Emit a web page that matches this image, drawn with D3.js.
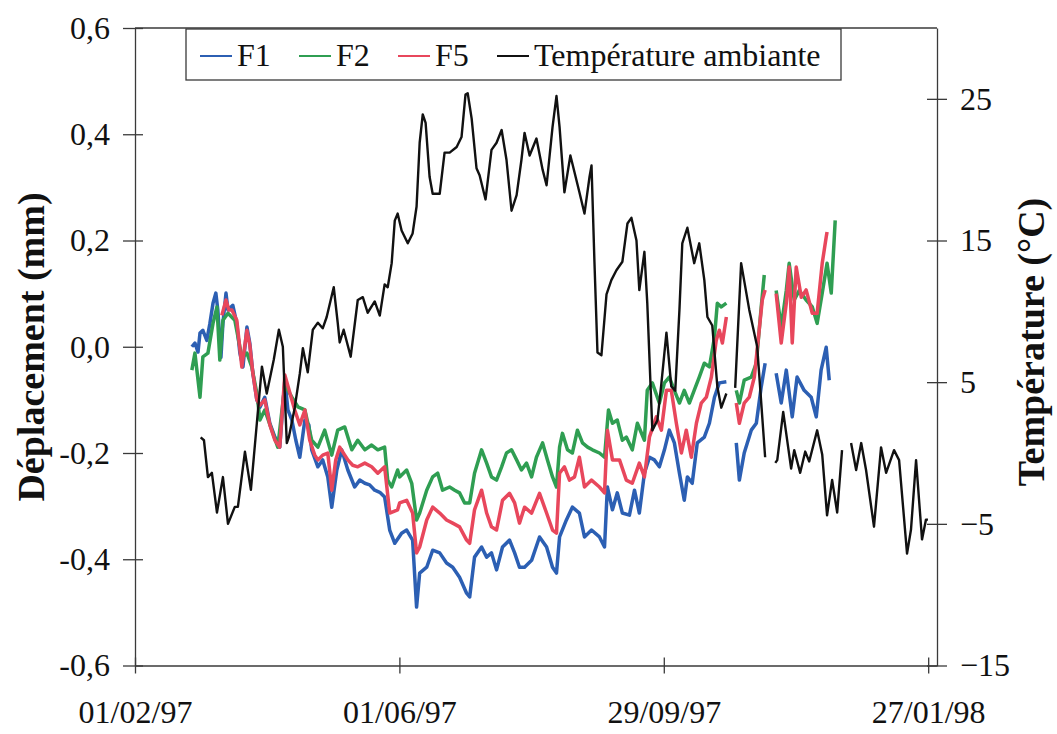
<!DOCTYPE html>
<html>
<head>
<meta charset="utf-8">
<script src="https://cdn.jsdelivr.net/npm/d3@7"></script>
<style>
    html, body { margin: 0; padding: 0; background: #fff; overflow: hidden; }
    svg { display: block; }
    svg text { font-family: "Liberation Serif", serif !important; fill: #111; }
</style>
</head>
<body>
<div id="svg-container"></div>
<script>
const tempDays = [29.8,31.3,33.1,34.9,37.2,39.9,42.2,45.3,46.7,49.9,52.6,55.3,57.6,59.8,63.0,65.3,67.1,68.9,69.8,72.5,
    74.8,76.2,78.4,80.7,83.0,85.2,87.0,90.2,92.0,92.9,94.7,97.9,101.1,103.4,105.6,108.8,111.1,113.3,114.7,116.5,
    117.9,119.2,121.0,123.8,126.0,127.8,129.2,130.6,131.9,133.7,135.1,138.3,140.5,142.8,146.0,148.2,150.0,151.0,152.8,155.0,
    156.4,159.1,161.8,164.1,166.4,168.6,170.9,173.2,175.4,176.8,179.1,182.2,185.0,186.8,187.4,189.5,191.3,192.7,194.9,197.6,
    199.5,201.7,204.0,206.3,207.2,208.5,209.9,211.7,214.0,216.2,218.5,221.2,223.5,225.3,227.6,228.9,231.2,232.5,234.8,237.1,
    238.9,241.2,243.4,245.2,247.1,248.4,250.7,253.8,256.1,258.4,259.8,262.0,264.3,266.1,268.4,270.4,272.4,275.1,278.8,282.4,
    286.0,288.3,290.6,291.5,294.2,297.8,299.2,301.9,304.2,306.0,309.6,311.9,314.1,316.4,318.7,320.9,323.0,325.0,327.3,329.6,
    331.8,335.4,338.6,340.9,344.5,346.8,350.4,352.2,354.5,357.2,359.0,359.9]
const tempValues = [1.1,0.9,-1.7,-1.4,-4.2,-1.7,-5.0,-3.8,-3.8,0.1,-2.6,2.1,6.1,4.2,6.6,8.7,7.5,0.7,1.1,3.2,
    5.6,7.4,5.7,8.7,9.2,8.8,9.6,11.7,9.2,7.8,8.7,6.8,10.8,11.0,9.9,10.7,9.7,11.9,11.7,13.4,
    16.4,16.9,15.7,14.8,15.5,17.4,21.9,23.9,23.3,19.5,18.3,18.3,21.2,21.2,21.6,22.3,25.3,25.4,23.6,20.1,
    19.6,17.9,21.4,21.9,22.8,20.7,17.1,18.2,20.7,22.6,21.0,22.2,20.0,18.9,19.8,23.0,25.2,23.0,18.4,21.0,
    19.8,18.4,16.9,19.5,20.3,13.6,7.1,6.9,11.2,12.2,12.9,13.5,16.2,16.6,15.0,11.5,14.2,10.6,1.6,2.3,
    4.9,8.5,4.7,4.4,10.1,14.8,15.9,13.4,14.8,12.2,9.6,9.0,4.7,3.2,4.2,null,4.6,13.4,10.1,7.5,
    -0.3,null,-0.7,-0.5,2.9,-1.1,0.2,-1.4,0.1,-0.6,1.6,-0.1,-4.4,-1.9,-4.2,0.2,null,0.7,-1.2,0.7,
    -1.2,-5.2,0.4,-1.4,0.2,-0.5,-7.1,-5.4,-0.5,-6.1,-4.7,-4.7]

const f1Days = [25.8,27.2,28.6,29.5,30.8,32.6,34.0,35.4,36.7,37.6,39.0,39.9,41.3,42.2,44.4,46.2,47.6,49.0,50.8,52.1,
    53.5,55.3,56.7,58.9,61.2,63.5,65.7,68.0,69.4,71.2,73.0,74.8,77.1,78.9,80.2,83.0,85.2,87.5,89.3,91.6,
    93.8,96.6,99.7,102.0,104.3,106.5,108.8,111.1,113.3,115.6,117.9,121.0,123.3,126.0,127.8,129.2,132.4,135.1,138.3,141.4,
    144.2,147.3,150.5,151.9,154.1,157.3,159.6,161.8,164.1,166.8,170.0,172.3,174.5,176.8,180.0,183.6,186.8,189.5,191.3,192.7,
    195.8,198.5,201.7,204.0,207.2,210.8,213.1,214.4,216.7,218.9,221.2,224.4,226.7,228.9,231.2,233.5,235.7,238.0,240.3,242.5,
    244.8,247.1,249.3,250.7,252.9,255.2,258.4,260.7,263.0,265.2,268.4,270.5,272.9,274.3,276.5,279.7,282.0,284.2,286.0,288.5,
    291.0,293.3,295.6,298.3,300.5,303.7,306.9,309.2,311.4,313.7,315.1]
const f1Values = [0.00,0.007,-0.010,0.026,0.031,0.012,0.044,0.082,0.101,0.069,-0.020,0.044,0.101,0.069,0.078,0.044,-0.012,-0.038,0.037,0.007,
    -0.050,-0.100,-0.114,-0.095,-0.144,-0.170,-0.189,-0.063,-0.119,-0.138,-0.176,-0.208,-0.138,-0.147,-0.194,-0.226,-0.213,-0.245,-0.302,-0.232,
    -0.194,-0.232,-0.264,-0.251,-0.257,-0.260,-0.270,-0.274,-0.283,-0.345,-0.370,-0.351,-0.345,-0.364,-0.490,-0.426,-0.415,-0.383,-0.388,-0.407,
    -0.415,-0.434,-0.464,-0.471,-0.396,-0.377,-0.396,-0.388,-0.420,-0.377,-0.364,-0.388,-0.415,-0.415,-0.402,-0.358,-0.377,-0.415,-0.426,-0.358,
    -0.326,-0.302,-0.313,-0.358,-0.345,-0.358,-0.377,-0.264,-0.307,-0.275,-0.313,-0.317,-0.270,-0.313,-0.238,-0.208,-0.213,-0.226,-0.194,-0.157,
    -0.181,-0.238,-0.289,-0.245,-0.257,-0.181,-0.170,-0.144,-0.095,-0.068,-0.066,null,-0.181,-0.251,-0.200,-0.157,-0.144,-0.076,-0.031,null,
    -0.050,-0.106,-0.044,-0.132,-0.057,-0.082,-0.095,-0.132,-0.044,-0.001,-0.063]

const f2Days = [25.8,27.2,29.5,30.8,33.1,35.4,37.2,38.5,39.9,42.2,45.3,48.5,50.8,53.0,55.3,56.7,58.9,62.1,64.8,68.0,
    71.2,73.9,77.1,80.2,83.0,86.1,89.3,92.0,95.2,98.4,101.1,104.3,107.4,110.2,113.3,114.7,116.5,119.2,120.1,123.3,
    125.6,127.8,129.2,132.4,135.1,137.4,139.6,142.8,145.1,147.3,149.6,151.9,154.1,157.3,159.6,161.8,164.1,166.4,168.6,170.9,
    173.2,175.4,177.7,180.0,182.2,185.0,187.2,189.5,191.3,192.7,194.0,196.3,198.5,200.8,203.1,205.4,207.6,210.8,213.1,214.9,
    216.7,218.9,221.2,223.0,225.7,228.0,231.2,232.5,234.8,238.0,240.3,242.5,244.8,247.1,249.3,251.6,253.8,256.1,258.4,260.7,
    263.0,264.3,266.1,268.4,270.5,272.9,274.3,276.5,279.7,282.0,284.2,285.6,288.5,291.0,293.3,295.6,296.9,299.2,301.5,304.6,
    307.4,309.6,311.9,314.1,316.0,317.8]
const f2Values = [-0.044,-0.012,-0.095,-0.019,-0.012,0.044,0.075,-0.025,0.050,0.063,0.050,-0.020,-0.012,-0.038,-0.087,-0.138,-0.119,-0.157,-0.189,-0.072,
    -0.095,-0.113,-0.119,-0.176,-0.189,-0.157,-0.204,-0.157,-0.151,-0.194,-0.176,-0.194,-0.185,-0.194,-0.189,-0.251,-0.264,-0.232,-0.245,-0.232,
    -0.257,-0.326,-0.313,-0.270,-0.245,-0.238,-0.270,-0.264,-0.270,-0.275,-0.294,-0.294,-0.238,-0.194,-0.219,-0.245,-0.251,-0.226,-0.200,-0.194,
    -0.213,-0.232,-0.219,-0.245,-0.208,-0.181,-0.213,-0.245,-0.264,-0.189,-0.163,-0.194,-0.200,-0.157,-0.181,-0.189,-0.194,-0.200,-0.208,-0.119,
    -0.144,-0.138,-0.176,-0.170,-0.194,-0.144,-0.176,-0.082,-0.068,-0.106,-0.068,-0.057,-0.082,-0.106,-0.082,-0.106,-0.082,-0.057,-0.031,-0.038,
    0.018,0.082,0.075,0.082,null,-0.082,-0.106,-0.063,-0.057,-0.031,0.074,0.135,null,0.106,0.037,0.106,0.157,0.088,0.106,0.088,
    0.075,0.044,0.101,0.157,0.101,0.238]

const f5Days = [39.4,41.3,42.6,44.0,46.2,48.5,50.8,52.1,53.5,55.3,56.7,58.9,61.2,63.5,65.7,68.0,70.3,72.5,74.8,77.1,
    79.3,81.6,83.0,85.2,87.5,89.3,91.1,92.9,95.2,96.6,98.8,101.1,104.3,107.4,110.2,113.3,115.6,119.2,120.1,123.3,
    126.0,127.8,129.2,132.4,135.1,138.3,141.4,144.2,147.3,150.5,151.9,154.1,157.3,159.6,161.8,164.1,166.8,170.0,172.3,174.5,
    176.8,180.0,183.6,186.8,189.5,191.3,192.7,194.9,197.2,199.5,201.7,204.0,207.2,210.8,213.1,214.4,216.7,219.9,223.0,225.7,
    228.9,231.2,233.5,236.6,238.9,241.2,243.4,245.7,248.0,250.2,252.5,254.8,257.0,259.3,261.6,263.8,265.2,266.6,268.4,270.5,
    272.9,274.3,276.5,278.8,281.1,283.3,284.7,286.0,288.5,291.0,293.3,295.6,296.9,298.3,300.1,302.4,304.6,307.4,309.6,311.9,
    313.7,314.1]
const f5Values = [0.059,0.088,0.069,0.069,0.050,-0.038,0.031,0.003,-0.050,-0.100,-0.110,-0.100,-0.147,-0.176,-0.189,-0.053,-0.087,-0.119,-0.147,-0.119,
    -0.176,-0.204,-0.213,-0.204,-0.200,-0.270,-0.213,-0.189,-0.204,-0.213,-0.223,-0.226,-0.219,-0.226,-0.238,-0.226,-0.313,-0.307,-0.294,-0.289,
    -0.313,-0.388,-0.377,-0.326,-0.302,-0.313,-0.326,-0.332,-0.339,-0.364,-0.370,-0.307,-0.270,-0.313,-0.339,-0.345,-0.289,-0.276,-0.294,-0.332,
    -0.302,-0.313,-0.276,-0.313,-0.345,-0.351,-0.238,-0.226,-0.251,-0.245,-0.208,-0.264,-0.251,-0.264,-0.275,-0.157,-0.213,-0.213,-0.251,-0.257,
    -0.219,-0.245,-0.170,-0.132,-0.157,-0.082,-0.082,-0.144,-0.200,-0.157,-0.208,-0.144,-0.106,-0.095,-0.057,0.012,0.031,0.007,0.056,null,
    -0.106,-0.144,-0.106,-0.095,-0.057,0.031,0.088,0.107,null,0.100,0.007,0.082,0.150,0.007,0.150,0.093,0.107,0.063,0.063,0.157,
    0.206,0.216]

const xTickLabels = ['01/02/97', '01/06/97', '29/09/97', '27/01/98']
const leftTicks = [-0.6, -0.4, -0.2, 0, 0.2, 0.4, 0.6]
const rightTicks = [-15, -5, 5, 15, 25]
const seriesNames = ['F1', 'F2', 'F5', 'Température ambiante']

const width = 1057
const height = 734
const margin = { top: 28, right: 120, bottom: 68.5, left: 135 }
const innerWidth = width - margin.left - margin.right
const innerHeight = height - margin.top - margin.bottom
const serif = '"Liberation Serif", serif'

const parseDate = d3.timeParse('%d/%m/%y')
const start = parseDate('01/02/97')
const toDate = d => new Date(start.getTime() + d * 864e5)

const svg = d3.select('#svg-container')
    .append('svg').attr('width', width).attr('height', height)

const g = svg.append('g')
    .attr('transform', `translate(${margin.left}, ${margin.top})`)

//schalen
const xScale = d3.scaleTime()
    .domain([start, parseDate('31/01/98')])
    .range([0, innerWidth])
const yLeft = d3.scaleLinear().domain([-0.6, 0.6]).range([innerHeight, 0])
const yRight = d3.scaleLinear().domain([-15, 30]).range([innerHeight, 0])

const fr = d3.formatLocale({ decimal: ',', thousands: ' ', grouping: [3], currency: ['', ''], minus: '-' })

const axisColor = '#3a3a3a'

//assen
const yAxisG = g.append('g')
    .call(d3.axisLeft(yLeft).tickValues(leftTicks).tickFormat(fr.format('.1f'))
        .tickSize(12).tickSizeOuter(0).tickPadding(13))
yAxisG.selectAll('.tick line').attr('x1', 8)

const yAxisRightG = g.append('g')
    .attr('transform', `translate(${innerWidth}, 0)`)
    .call(d3.axisRight(yRight).tickValues(rightTicks)
        .tickSize(10).tickSizeOuter(0).tickPadding(13))
yAxisRightG.selectAll('.tick line').attr('x1', -10)

const xAxisG = g.append('g')
    .attr('transform', `translate(0, ${innerHeight})`)
    .call(d3.axisBottom(xScale).tickValues(xTickLabels.map(parseDate))
        .tickFormat(d3.timeFormat('%d/%m/%y')).tickSize(8).tickSizeOuter(0).tickPadding(27))
xAxisG.selectAll('.tick line').attr('y1', -8)

g.selectAll('g').attr('font-family', serif).attr('font-size', 32)

g.append('line')
    .attr('x1', 0).attr('x2', innerWidth).attr('y1', 0).attr('y2', 0)
    .attr('stroke', axisColor).attr('stroke-width', 1.3)

g.selectAll('.domain, .tick line').attr('stroke', axisColor).attr('stroke-width', 1.3)
g.selectAll('.tick text')
    .style('font-family', serif)
    .attr('font-size', 32).attr('fill', '#111')

//lijnen
const dispLine = d3.line()
    .defined(d => d[1] !== null)
    .x(d => xScale(toDate(d[0])))
    .y(d => yLeft(d[1]))
const tempLine = d3.line()
    .defined(d => d[1] !== null)
    .x(d => xScale(toDate(d[0])))
    .y(d => yRight(d[1]))

const series = [
    { days: f1Days, values: f1Values, color: '#2c5fb3' },
    { days: f2Days, values: f2Values, color: '#2f9e52' },
    { days: f5Days, values: f5Values, color: '#e8475c' }
]

series.forEach(s => {
    g.append('path')
        .datum(s.days.map((d, i) => [d, s.values[i]]))
        .attr('fill', 'none')
        .attr('stroke', s.color)
        .attr('stroke-width', 3.5)
        .attr('stroke-linejoin', 'round')
        .attr('d', dispLine)
})

g.append('path')
    .datum(tempDays.map((d, i) => [d, tempValues[i]]))
    .attr('fill', 'none')
    .attr('stroke', '#111')
    .attr('stroke-width', 2.4)
    .attr('stroke-linejoin', 'round')
    .attr('d', tempLine)

//titels
svg.append('text')
    .attr('transform', 'translate(44, 347) rotate(-90)')
    .attr('text-anchor', 'middle')
    .style('font-family', serif)
    .attr('font-size', 38).attr('font-weight', 'bold')
    .text('Déplacement (mm)')

svg.append('text')
    .attr('transform', 'translate(1044, 342) rotate(-90)')
    .attr('text-anchor', 'middle')
    .style('font-family', serif)
    .attr('font-size', 38).attr('font-weight', 'bold')
    .text('Température (°C)')

//legenda
const legend = svg.append('g')
legend.append('rect')
    .attr('x', 186).attr('y', 29).attr('width', 655).attr('height', 51)
    .attr('fill', '#fff').attr('stroke', axisColor).attr('stroke-width', 1.3)

const legendColors = ['#2c5fb3', '#2f9e52', '#e8475c', '#111']
const legendX = [200, 299, 398, 497]
seriesNames.forEach((name, i) => {
    legend.append('line')
        .attr('x1', legendX[i]).attr('x2', legendX[i] + 32)
        .attr('y1', 56).attr('y2', 56)
        .attr('stroke', legendColors[i]).attr('stroke-width', 2)
    legend.append('text')
        .attr('x', legendX[i] + 37).attr('y', 66)
        .style('font-family', serif)
        .attr('font-size', 32)
        .text(name)
})
</script>
</body>
</html>
